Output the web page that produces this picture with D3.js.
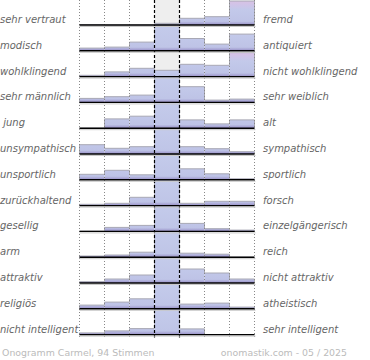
<!DOCTYPE html>
<html>
<head>
<meta charset="utf-8">
<script src="https://cdn.jsdelivr.net/npm/d3@7.9.0/dist/d3.min.js"></script>
<style>
  html, body { margin: 0; padding: 0; background: #fff; }
  svg { display: block; }
  text { font-family: "DejaVu Sans", sans-serif; }
</style>
</head>
<body>
<svg id="chart" width="370" height="360"></svg>
<script>
// --- DATA ---
const leftLabels = ['sehr vertraut', 'modisch', 'wohlklingend', 'sehr männlich', ' jung', 'unsympathisch',
  'unsportlich', 'zurückhaltend', 'gesellig', 'arm', 'attraktiv', 'religiös', 'nicht intelligent'];
const rightLabels = ['fremd', 'antiquiert', 'nicht wohlklingend', 'sehr weiblich', 'alt', 'sympathisch',
  'sportlich', 'forsch', 'einzelgängerisch', 'reich', 'nicht attraktiv', 'atheistisch', 'sehr intelligent'];

// 7 steps per row (centre column is clipped at the row height)
const rowValues = [
  [0.3, 0, 0, 1.7, 6.7, 8.3, 24],
  [2.7, 3.7, 8.7, 40, 12.3, 6.7, 16.7],
  [1.3, 4.7, 8.3, 6.3, 12.3, 11.3, 24],
  [4, 5.7, 7.3, 40, 15.7, 2.3, 3.3],
  [0, 9.3, 12, 40, 8.3, 4.3, 8.3],
  [9.3, 5.7, 7.3, 40, 7.3, 5.3, 2.3],
  [5.5, 9.5, 5, 40, 11, 6, 1],
  [1.3, 2.3, 8.3, 40, 2.3, 4.3, 4.3],
  [0.3, 4, 6, 40, 8, 2.7, 1.3],
  [1.2, 2.2, 5, 40, 4, 3, 0],
  [1.3, 4, 8, 40, 14, 10, 4],
  [3.7, 6.7, 10, 40, 4.7, 5.7, 1.7],
  [1.7, 3.7, 6, 40, 5.7, 0, 0]
];

const footerLeft = 'Onogramm Carmel, 94 Stimmen';
const footerRight = 'onomastik.com - 05 / 2025';

// --- LAYOUT ---
const svg = d3.select('#chart');
const rowH = 25.8;
const nRows = leftLabels.length;
const cols = d3.range(7);

const x = d3.scaleBand().domain(cols).range([79.5, 254.5]);
const row = d3.scaleBand().domain(d3.range(nRows)).range([25 - rowH, 25 + (nRows - 1) * rowH]);
const h = d3.scaleLinear().domain([0, 25.8]).range([0, rowH]).clamp(true);
const baseY = i => row(i) + row.bandwidth();

const defs = svg.append('defs');

// gradients: per row for the side bars (pink near the row top), plain one for the centre
rowValues.forEach((_, i) => {
  const g = defs.append('linearGradient')
    .attr('id', 'g' + i)
    .attr('gradientUnits', 'userSpaceOnUse')
    .attr('x1', 0).attr('x2', 0)
    .attr('y1', row(i)).attr('y2', baseY(i));
  g.append('stop').attr('offset', '0%').attr('stop-color', '#dcc0e2');
  g.append('stop').attr('offset', '22%').attr('stop-color', '#d0c4e8');
  g.append('stop').attr('offset', '40%').attr('stop-color', '#c3c9ea');
  g.append('stop').attr('offset', '86%').attr('stop-color', '#bec3e6');
  g.append('stop').attr('offset', '100%').attr('stop-color', '#978ec6');
});
const gc = defs.append('linearGradient')
  .attr('id', 'gc').attr('x1', 0).attr('x2', 0).attr('y1', 0).attr('y2', 1);
gc.append('stop').attr('offset', '0%').attr('stop-color', '#c4cbeb');
gc.append('stop').attr('offset', '86%').attr('stop-color', '#bfc5e7');
gc.append('stop').attr('offset', '100%').attr('stop-color', '#978ec6');

const plotTop = 0;
const plotBottom = baseY(nRows - 1) + 3;

// centre column background
svg.append('rect')
  .attr('x', x(3)).attr('y', plotTop)
  .attr('width', x.bandwidth()).attr('height', baseY(nRows - 1) - plotTop)
  .attr('fill', '#eeeeee');

// bars
const rows = svg.selectAll('g.row')
  .data(rowValues)
  .join('g')
  .attr('class', 'row');

rows.each(function (vals, i) {
  const g = d3.select(this);
  const b = baseY(i);
  g.selectAll('rect')
    .data(vals)
    .join('rect')
    .attr('x', (d, c) => x(c))
    .attr('width', x.bandwidth())
    .attr('y', d => b - h(d))
    .attr('height', d => h(d))
    .attr('fill', (d, c) => c === 3 ? 'url(#gc)' : `url(#g${i})`);

  // step outline along the bar tops
  const pts = [];
  vals.forEach((d, c) => {
    pts.push([x(c), b - h(d)]);
    pts.push([x(c) + x.bandwidth(), b - h(d)]);
  });
  g.append('path')
    .attr('d', d3.line().curve(d3.curveLinear)([[x(0), b], ...pts, [x(6) + x.bandwidth(), b]]))
    .attr('fill', 'none')
    .attr('stroke', '#a8a8b4')
    .attr('stroke-width', 1);
});

// dotted column lines
const edges = [0, 1, 2, 5, 6].map(c => x(c)).concat([x(6) + x.bandwidth()]);
svg.selectAll('line.dot')
  .data(edges)
  .join('line')
  .attr('class', 'dot')
  .attr('x1', d => d).attr('x2', d => d)
  .attr('y1', plotTop).attr('y2', plotBottom)
  .attr('stroke', '#888')
  .attr('stroke-width', 1)
  .attr('stroke-dasharray', '1,2');

// dashed centre lines
svg.selectAll('line.mid')
  .data([x(3), x(4)])
  .join('line')
  .attr('class', 'mid')
  .attr('x1', d => d).attr('x2', d => d)
  .attr('y1', plotTop).attr('y2', plotBottom)
  .attr('stroke', '#000')
  .attr('stroke-width', 1.2)
  .attr('stroke-dasharray', '3,2');

// baselines with a soft shadow
svg.selectAll('line.shadow')
  .data(d3.range(nRows))
  .join('line')
  .attr('class', 'shadow')
  .attr('x1', x(0)).attr('x2', x(6) + x.bandwidth() + 1)
  .attr('y1', i => baseY(i) + 1.5).attr('y2', i => baseY(i) + 1.5)
  .attr('stroke', '#c8c8c8').attr('stroke-width', 1);
svg.selectAll('line.base')
  .data(d3.range(nRows))
  .join('line')
  .attr('class', 'base')
  .attr('x1', x(0)).attr('x2', x(6) + x.bandwidth())
  .attr('y1', i => baseY(i)).attr('y2', i => baseY(i))
  .attr('stroke', '#000').attr('stroke-width', 1.4);

// labels
svg.selectAll('text.left')
  .data(leftLabels)
  .join('text')
  .attr('class', 'left')
  .attr('x', 0)
  .attr('y', (d, i) => baseY(i) - 2)
  .attr('font-size', 10)
  .attr('font-style', 'italic')
  .attr('fill', '#666')
  .style('white-space', 'pre')
  .text(d => d);

svg.selectAll('text.right')
  .data(rightLabels)
  .join('text')
  .attr('class', 'right')
  .attr('x', 263)
  .attr('y', (d, i) => baseY(i) - 2)
  .attr('font-size', 10)
  .attr('font-style', 'italic')
  .attr('fill', '#666')
  .text(d => d);

// footer
svg.append('text')
  .attr('x', 2).attr('y', 356)
  .attr('font-size', 9.4)
  .attr('fill', '#bbb')
  .text(footerLeft);
svg.append('text')
  .attr('x', 347).attr('y', 356)
  .attr('text-anchor', 'end')
  .attr('font-size', 9.4)
  .attr('fill', '#bbb')
  .text(footerRight);
</script>
</body>
</html>
